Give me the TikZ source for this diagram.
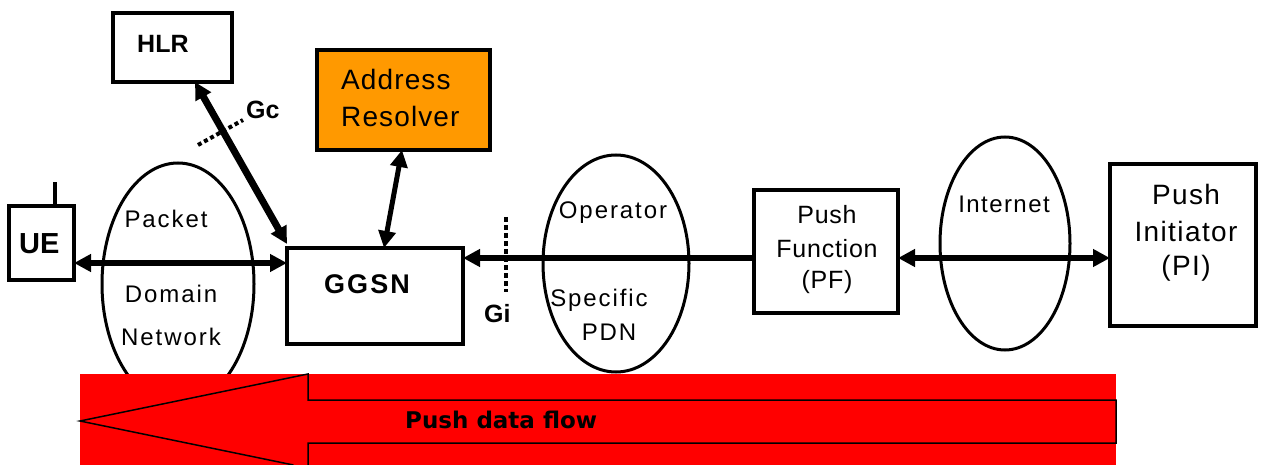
\documentclass[tikz,border=0pt]{standalone}
\usepackage{fontspec}
\setmainfont{Liberation Sans}
\newfontfamily\dejavu{DejaVu Sans}
\usetikzlibrary{arrows.meta,shapes.geometric}
\definecolor{arorange}{RGB}{255,153,0}
\definecolor{flowred}{RGB}{255,0,0}
\newcommand{\fsz}[1]{\fontsize{#1}{#1}\selectfont}
\begin{document}
\begin{tikzpicture}[x=1pt,y=-1pt,
  boxnode/.style={draw, line width=3.5pt, inner sep=0pt, outer sep=0pt},
  cloud/.style={draw, ellipse, line width=3pt, inner sep=0pt, outer sep=0pt},
  conntwo/.style={line width=6pt, {Triangle[length=17pt,width=17pt]}-{Triangle[length=17pt,width=17pt]}},
  connone/.style={line width=6pt, -{Triangle[length=17pt,width=17pt]}},
  marker/.style={line width=4pt, dash pattern=on 4pt off 3pt},
  lbl/.style={inner sep=0pt, anchor=base},
  lblw/.style={inner sep=0pt, anchor=base west},
]
\useasboundingbox (0,0) rectangle (1261,465);

% boxes
\node[boxnode, minimum width=119pt, minimum height=69pt] (hlr) at (172.5,47.5) {};
\node[boxnode, fill=arorange, minimum width=173pt, minimum height=100pt] (ar) at (403.5,100) {};
\node[boxnode, minimum width=65pt, minimum height=74pt] (ue) at (41.5,243) {};
\node[boxnode, minimum width=176pt, minimum height=96pt] (ggsn) at (375,296) {};
\node[boxnode, minimum width=144pt, minimum height=123pt] (pf) at (826,251.5) {};
\node[boxnode, minimum width=146pt, minimum height=162pt] (pi) at (1183,245) {};

% antenna
\draw[line width=3.5pt] ([xshift=13.5pt]ue.north) -- ++(0,-24);

% clouds
\node[cloud, minimum width=152pt, minimum height=242pt] (pdn) at (178,284) {};
\node[cloud, minimum width=146pt, minimum height=217pt] (opdn) at (616,263.5) {};
\node[cloud, minimum width=130pt, minimum height=213pt] (inet) at (1005,243.5) {};

% levels
\coordinate (yue) at (0,263);
\coordinate (ypf) at (0,258);

% connectors
\draw[conntwo] (ue.east |- yue) -- (ggsn.west |- yue);
\draw[connone] (pf.west |- ypf) -- (ggsn.east |- ypf);
\draw[conntwo] (pf.east |- ypf) -- (pi.west |- ypf);
\draw[conntwo, line width=7pt] ([xshift=82pt]hlr.south west) -- ([yshift=4pt]ggsn.north west);
\draw[conntwo, line width=5pt] ([xshift=85pt]ar.south west) -- ([xshift=97pt]ggsn.north west);

% interface markers
\draw[marker] (198,145) -- (243,120);
\draw[marker, dash pattern=on 5pt off 3pt] (506,217) -- (506,292);

% texts
\node[lblw, font=\bfseries\fsz{25}] (thlr) at (137,53) {HLR};
\node[lblw, font=\bfseries\fsz{25}] (tgc) at (246,119) {Gc};
\node[lblw, font=\fsz{28}\addfontfeature{LetterSpace=4}] (tar1) at (341,90) {Address};
\node[lblw, font=\fsz{28}\addfontfeature{LetterSpace=4}] (tar2) at (341,127) {Resolver};
\node[lblw, font=\bfseries\fsz{29}] (tue) at (19,254) {UE};
\node[lbl, font=\fsz{24}\addfontfeature{LetterSpace=8}] (tp1) at (166,228) {Packet};
\node[lbl, font=\fsz{24}\addfontfeature{LetterSpace=8}] (tp2) at (171,302) {Domain};
\node[lbl, font=\fsz{24}\addfontfeature{LetterSpace=8}] (tp3) at (171,345) {Network};
\node[lbl, font=\bfseries\fsz{27}\addfontfeature{LetterSpace=8}] (tggsn) at (367,293) {GGSN};
\node[lblw, font=\bfseries\fsz{25}] (tgi) at (484,322) {Gi};
\node[lbl, font=\fsz{24}\addfontfeature{LetterSpace=8}] (to1) at (613,219) {Operator};
\node[lbl, font=\fsz{24}\addfontfeature{LetterSpace=8}] (to2) at (599,306) {Specific};
\node[lbl, font=\fsz{24}\addfontfeature{LetterSpace=8}] (to3) at (609,340) {PDN};
\node[lbl, font=\fsz{25}\addfontfeature{LetterSpace=3}] (tpf1) at (827,224) {Push};
\node[lbl, font=\fsz{25}\addfontfeature{LetterSpace=3}] (tpf2) at (827,258) {Function};
\node[lbl, font=\fsz{25}\addfontfeature{LetterSpace=3}] (tpf3) at (827,288) {(PF)};
\node[lbl, font=\fsz{24}\addfontfeature{LetterSpace=6}] (tinet) at (1004,213) {Internet};
\node[lbl, font=\fsz{28}\addfontfeature{LetterSpace=5}] (tpi1) at (1186,205) {Push};
\node[lbl, font=\fsz{28}\addfontfeature{LetterSpace=5}] (tpi2) at (1186,241) {Initiator};
\node[lbl, font=\fsz{28}\addfontfeature{LetterSpace=5}] (tpi3) at (1186,275) {(PI)};

% push data flow
\fill[flowred] (80,374) rectangle (1116,465);
\draw[line width=1.5pt, line join=miter] (293.4,465) -- (80,421) -- (308,374) -- (308,400) -- (1116,400) -- (1116,443) -- (308,443) -- (308,465);
\node[lblw, font=\dejavu\bfseries\fsz{23}] (tflow) at (405,428) {Push data flow};
\end{tikzpicture}
\end{document}
